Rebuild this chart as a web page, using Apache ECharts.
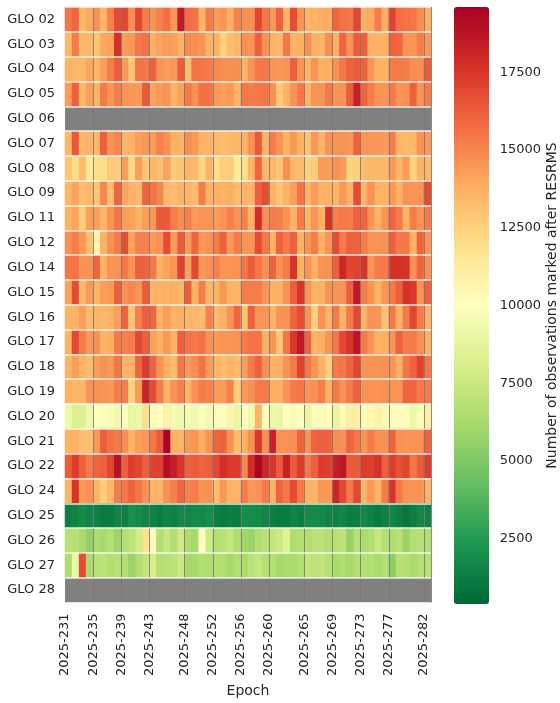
<!DOCTYPE html>
<html>
<head>
<meta charset="utf-8">
<script src="https://cdn.jsdelivr.net/npm/echarts@6.0.0/dist/echarts.min.js"></script>
<style>
  html, body { margin: 0; padding: 0; background: #fff; }
  #chart { width: 560px; height: 703px; }
</style>
</head>
<body>
<div id="chart"></div>
<script>
// epochs: one column per day of year, 2025-231 .. 2025-282
const firstDay = 231;
const lastDay = 282;
const epochs = [];
for (let d = firstDay; d <= lastDay; d++) epochs.push("2025-" + d);

// labelled columns (and the grey day lines)
const tickCols = [0, 4, 8, 12, 17, 21, 25, 29, 34, 38, 42, 46, 51];
const tickLabels = ["2025-231", "2025-235", "2025-239", "2025-243", "2025-248", "2025-252",
  "2025-256", "2025-260", "2025-265", "2025-269", "2025-273", "2025-277", "2025-282"];

const satellites = ["GLO 02", "GLO 03", "GLO 04", "GLO 05", "GLO 06", "GLO 07", "GLO 08", "GLO 09",
  "GLO 11", "GLO 12", "GLO 14", "GLO 15", "GLO 16", "GLO 17", "GLO 18", "GLO 19", "GLO 20",
  "GLO 21", "GLO 22", "GLO 24", "GLO 25", "GLO 26", "GLO 27", "GLO 28"];

// number of observations marked after RESRMS, per epoch (empty = no data)
const glo02 = [15500, 16000, 13500, 14000, 14700, 13600, 15200, 16800, 16900, 14800, 17000, 15300, 14600, 15200, 15700, 14500, 18500, 15800, 15600, 13600, 15400, 14300, 14600, 13800, 15100, 14700,
  14700, 17000, 15500, 14500, 16200, 13600, 16800, 14600, 13700, 13700, 13800, 13900, 16000, 15600, 15500, 17000, 13800, 14000, 15300, 13900, 17100, 15700, 15600, 15500, 14800, 13800];
const glo03 = [13400, 15300, 13500, 13500, 13000, 14000, 14200, 17700, 14400, 14500, 15500, 15600, 13800, 14200, 14400, 14300, 13700, 14900, 14800, 14600, 13600, 13700, 12500, 13300, 13500, 14800,
  14600, 16200, 14700, 13700, 13400, 15500, 13700, 13800, 14700, 13800, 13600, 14800, 13800, 16000, 14700, 16300, 16200, 13700, 13600, 13700, 16100, 16000, 14600, 14600, 15300, 14500];
const glo04 = [13600, 13500, 13500, 14100, 13600, 14300, 15300, 16300, 14500, 13000, 15600, 15500, 16200, 14600, 14300, 14500, 16300, 13300, 15600, 15500, 15400, 14900, 14800, 14800, 14800, 13600,
  14600, 15400, 15500, 14600, 14500, 14600, 16200, 14600, 13700, 14600, 13700, 13800, 14700, 15500, 16100, 16300, 16100, 14600, 13600, 13700, 15400, 15400, 15300, 14800, 14700, 16300];
const glo05 = [14400, 16200, 13400, 14300, 13600, 15400, 14600, 15300, 14600, 14500, 14400, 16400, 14200, 14400, 14600, 13600, 14200, 15400, 14700, 15700, 15600, 14500, 14300, 14500, 13600, 15500,
  15300, 15400, 15500, 14700, 12800, 13600, 14600, 15500, 13700, 14600, 14600, 15400, 14600, 14600, 16300, 18400, 16000, 15300, 14600, 14600, 15400, 14600, 14700, 16200, 14600, 15400];
const glo06 = [];
const glo07 = [13500, 16400, 13500, 13600, 13500, 16200, 14700, 15000, 13600, 13700, 14300, 14500, 14400, 15200, 14700, 13700, 13600, 14800, 14500, 13700, 13600, 13400, 13300, 13500, 13500, 13600,
  14600, 16400, 13600, 15300, 14600, 13700, 14500, 13700, 13100, 14500, 13600, 14600, 14600, 14600, 14500, 16100, 14600, 14500, 14500, 14400, 15300, 13600, 13400, 13500, 14600, 14500];
const glo08 = [13000, 12000, 13300, 11500, 12000, 12000, 12800, 12700, 14300, 12200, 14300, 12900, 13500, 13200, 14200, 12800, 13000, 13600, 13400, 12300, 13600, 12000, 12600, 12800, 11300, 12000,
  13500, 16000, 13400, 13500, 12900, 14800, 13400, 13300, 12500, 12600, 14400, 14400, 14700, 14400, 12500, 12600, 13300, 13500, 13400, 13500, 14500, 13600, 14400, 12500, 13600, 13400];
const glo09 = [13500, 14200, 13200, 13500, 12900, 15000, 13200, 16000, 14100, 13600, 13400, 16100, 15600, 15000, 13400, 13200, 13600, 13600, 13300, 15300, 13700, 13800, 13700, 13800, 13300, 13600,
  13600, 16200, 16800, 13700, 13000, 13700, 14300, 15600, 13700, 14400, 13700, 13700, 13600, 14500, 13700, 16800, 13700, 14700, 13700, 13700, 14500, 13700, 14600, 14600, 14600, 16800];
const glo11 = [13600, 14200, 12600, 14300, 14300, 13600, 14600, 15500, 14300, 14200, 13700, 14300, 14500, 16400, 16400, 15300, 14800, 15200, 14500, 14600, 14600, 14400, 14600, 15200, 14600, 15200,
  13600, 17800, 14700, 15300, 15200, 14600, 13700, 15400, 13700, 14600, 13700, 17600, 15300, 15400, 15300, 16100, 16000, 14600, 13700, 14600, 16000, 15400, 13700, 15300, 14600, 15300];
const glo12 = [14700, 15300, 14500, 13200, 10500, 13700, 14700, 15400, 16700, 14200, 15200, 15200, 14500, 14700, 16800, 14400, 16300, 14500, 16000, 14500, 14700, 15300, 16100, 14500, 15300, 14600,
  14600, 16800, 15500, 13700, 16100, 15400, 16200, 13700, 14600, 15300, 13700, 14600, 16800, 15400, 16200, 16100, 15300, 14600, 14600, 14700, 16200, 15400, 15400, 13700, 16100, 14600];
const glo14 = [15500, 15600, 14700, 14600, 16000, 13700, 14600, 14700, 15500, 14600, 16200, 16100, 15500, 13800, 14200, 14600, 17100, 14300, 16900, 14500, 14700, 15200, 14600, 14600, 14700, 15500,
  16300, 15500, 14700, 16100, 14700, 15300, 17600, 13700, 14600, 13800, 14600, 14700, 16200, 18100, 17000, 17100, 17600, 14600, 15300, 15400, 17700, 17700, 17600, 14700, 16100, 14700];
const glo15 = [14200, 16800, 13400, 14500, 13700, 14300, 14400, 16200, 14700, 15000, 14600, 16300, 13600, 13700, 13600, 13800, 13500, 16200, 13700, 15300, 13500, 13600, 14500, 13700, 13600, 15300,
  15300, 15300, 14600, 13700, 13700, 14600, 16200, 17600, 14600, 13700, 13700, 14600, 14600, 14600, 16200, 18600, 15300, 14600, 13700, 14600, 15400, 16200, 17600, 17500, 14600, 16100];
const glo16 = [13600, 13600, 14300, 13300, 13600, 13500, 13700, 14300, 16100, 13000, 15200, 16200, 16000, 13700, 14300, 13600, 13800, 13500, 13400, 13300, 15200, 13300, 13700, 14600, 16000, 13000,
  16200, 14600, 14600, 13700, 14600, 14600, 16000, 16800, 14600, 12500, 14600, 13700, 15400, 13700, 15400, 16900, 13700, 14600, 14600, 13000, 15400, 13700, 15400, 17000, 15400, 13700];
const glo17 = [13700, 16900, 15300, 14500, 14700, 13700, 13800, 15400, 15200, 15300, 16900, 16200, 14200, 13800, 14500, 13700, 16200, 15600, 15400, 15600, 14700, 14500, 14600, 14600, 14700, 15300,
  15600, 15600, 13800, 14600, 13000, 15500, 17500, 18600, 16100, 13700, 13800, 14600, 15500, 16900, 17600, 18700, 15400, 14600, 13700, 13800, 14600, 16100, 15300, 15400, 14700, 13800];
const glo18 = [13600, 14300, 13700, 13300, 14300, 14700, 14500, 15500, 13700, 13600, 16000, 17300, 16100, 14600, 13800, 13300, 15500, 14500, 14800, 15600, 14400, 13600, 13200, 13600, 13300, 14300,
  15400, 16100, 14700, 13700, 13800, 14600, 15400, 17100, 15500, 14600, 13700, 12600, 15400, 15500, 16100, 17000, 14600, 14600, 14600, 14700, 14600, 13800, 15500, 16000, 17100, 15500];
const glo19 = [13700, 13500, 13600, 14600, 14700, 14600, 14500, 15300, 15300, 12500, 14400, 18200, 16800, 15300, 13700, 14600, 15200, 13700, 14700, 15300, 15200, 14400, 14400, 15200, 12700, 14500,
  14700, 15400, 15400, 13800, 13800, 14600, 15400, 15500, 14600, 14700, 15300, 13800, 15400, 14700, 15400, 16100, 14600, 14700, 14600, 14700, 14600, 14600, 16000, 16000, 15400, 15400];
const glo20 = [9200, 8200, 8300, 9200, 10000, 10100, 9700, 9300, 10000, 8900, 9100, 11900, 10200, 10000, 10800, 9500, 9300, 9500, 9400, 9800, 9400, 10200, 10100, 10600, 9000, 10000,
  9400, 13600, 10200, 9200, 9000, 9900, 9600, 10000, 9000, 10100, 10200, 10100, 8900, 10300, 10900, 11000, 9700, 10400, 10800, 9500, 10200, 10200, 10100, 9100, 9800, 11200];
const glo21 = [13700, 13600, 13200, 13200, 14500, 16200, 15600, 15400, 14800, 13700, 14300, 14500, 15500, 16300, 19400, 13700, 13500, 14500, 14600, 13800, 14600, 16000, 16100, 14700, 13300, 13700,
  14700, 17500, 14700, 18300, 14700, 14700, 14800, 16100, 14700, 16100, 16200, 16100, 14800, 14700, 16100, 15500, 14600, 15400, 14700, 14700, 16100, 14700, 14600, 14700, 14600, 16100];
const glo22 = [16300, 17300, 16200, 15400, 16000, 16200, 17000, 18900, 16200, 17300, 17000, 16200, 17100, 17200, 19000, 18400, 17500, 16200, 16300, 16100, 16200, 16900, 17800, 17400, 17400, 15000,
  17800, 19400, 18100, 17600, 16300, 18300, 16300, 17300, 15500, 16200, 17300, 17200, 18400, 18700, 16300, 16300, 17300, 17200, 17600, 16200, 17300, 16600, 17000, 15500, 16300, 17300];
const glo24 = [13600, 17600, 14500, 14700, 13600, 12700, 13500, 15300, 15500, 16100, 15500, 14700, 13700, 13600, 14700, 15200, 16000, 15200, 15300, 14600, 14700, 13200, 14500, 13600, 13600, 15300,
  14500, 14600, 15400, 13600, 16000, 15500, 16800, 15400, 13700, 13600, 14500, 14500, 18100, 16900, 15500, 16900, 13700, 14400, 13700, 15300, 17600, 15400, 14700, 14600, 14700, 13700];
const glo25 = [1300, 1500, 1800, 1600, 1400, 1100, 1200, 1500, 1300, 2000, 1800, 1600, 1400, 1200, 1500, 1400, 1700, 1600, 1800, 1700, 2000, 1300, 1200, 1300, 1200, 1900,
  1900, 1800, 1600, 1300, 1100, 1200, 1500, 1300, 1800, 1800, 1700, 1500, 1400, 1600, 1200, 1300, 1700, 1400, 1100, 1400, 1600, 1300, 1000, 1300, 1700, 1400];
const glo26 = [6800, 6800, 6300, 5600, 6500, 6200, 6700, 5900, 6700, 7000, 7800, 11800, 10100, 6700, 7400, 6600, 7700, 6500, 6200, 10000, 7600, 6700, 6900, 7200, 6500, 6000,
  5800, 6600, 6800, 7200, 7600, 8400, 6500, 6700, 6600, 6900, 7000, 6700, 6900, 7100, 5700, 6800, 6400, 6700, 7500, 6700, 6500, 6800, 5800, 6700, 6900, 6600];
const glo27 = [6500, 9200, 16800, 6300, 6800, 7000, 6600, 6800, 6700, 5800, 6600, 7200, 8000, 6700, 6900, 7000, 7600, 6200, 6300, 6600, 6500, 6700, 6600, 6200, 6600, 6300,
  6900, 7300, 6700, 6700, 6200, 6400, 6300, 6600, 7200, 7000, 7200, 6800, 6300, 6600, 6200, 6700, 6800, 6600, 6400, 6700, 5400, 6800, 6700, 6300, 6700, 6800];
const glo28 = [];

const rows = [glo02, glo03, glo04, glo05, glo06, glo07, glo08, glo09, glo11, glo12, glo14, glo15,
  glo16, glo17, glo18, glo19, glo20, glo21, glo22, glo24, glo25, glo26, glo27, glo28];

// colour bar
const cbMin = 400;
const cbMax = 19600;
const cbTicks = [2500, 5000, 7500, 10000, 12500, 15000, 17500];
const rdYlGnR = ["#006837", "#1a9850", "#66bd63", "#a6d96a", "#d9ef8b", "#ffffbf",
  "#fee08b", "#fdae61", "#f46d43", "#d73027", "#a50026"];

const cells = [];
rows.forEach((vals, r) => {
  vals.forEach((v, c) => cells.push([c, r, v]));
});

const font = "DejaVu Sans";
const ink = "#262626";

const chart = echarts.init(document.getElementById("chart"));
chart.setOption({
  animation: false,
  backgroundColor: "#fff",
  textStyle: { fontFamily: font, color: ink },
  grid: [
    { left: 65, top: 7, width: 366, height: 597, show: true, backgroundColor: "#808080", borderWidth: 0 },
    { left: 454, top: 7, width: 35, height: 597 }
  ],
  xAxis: [
    {
      // cell axis: only the grey day lines are shown
      type: "category", gridIndex: 0, data: epochs, position: "top", z: 3,
      axisLine: { show: false }, axisTick: { show: false }, axisLabel: { show: false },
      splitLine: {
        show: true,
        interval: (i) => tickCols.indexOf(i) > 0,
        lineStyle: { color: "rgba(120,120,120,0.85)", width: 1 }
      }
    },
    {
      // label axis on column edges
      type: "value", gridIndex: 0, min: 0, max: epochs.length, position: "bottom",
      axisLine: { show: false }, axisTick: { show: false }, splitLine: { show: false },
      axisLabel: {
        customValues: tickCols, rotate: 90, margin: 11, fontSize: 13, color: ink, fontFamily: font,
        formatter: (v) => tickLabels[tickCols.indexOf(v)]
      },
      name: "Epoch", nameLocation: "middle", nameGap: 71,
      nameTextStyle: { fontSize: 14, color: ink, fontFamily: font }
    },
    { type: "value", gridIndex: 1, show: false, min: 0, max: 1 }
  ],
  yAxis: [
    {
      type: "category", gridIndex: 0, data: satellites, inverse: true, z: 4,
      axisLine: { show: false }, axisTick: { show: false },
      axisLabel: { fontSize: 13, color: ink, margin: 10, fontFamily: font, interval: 0 },
      splitLine: { show: true, interval: 0, lineStyle: { color: "rgba(255,255,255,0.85)", width: 1.5 } }
    },
    {
      type: "value", gridIndex: 1, min: cbMin, max: cbMax, position: "right",
      axisLine: { show: false }, splitLine: { show: false },
      axisTick: { show: true, length: 6, customValues: cbTicks, lineStyle: { color: ink, width: 1 } },
      axisLabel: {
        customValues: cbTicks, fontSize: 13, color: ink, margin: 12, fontFamily: font,
        formatter: (v) => String(v)
      },
      name: "Number of observations marked after RESRMS", nameLocation: "middle", nameRotate: 90, nameGap: 41,
      nameTextStyle: { fontSize: 14, color: ink, fontFamily: font }
    }
  ],
  visualMap: {
    type: "continuous", seriesIndex: 0, min: cbMin, max: cbMax,
    orient: "vertical", left: 454, top: 7, itemWidth: 35, itemHeight: 597, padding: 0,
    calculable: false, hoverLink: false,
    inRange: { color: rdYlGnR }
  },
  series: [
    {
      type: "heatmap", xAxisIndex: 0, yAxisIndex: 0, data: cells,
      itemStyle: { borderWidth: 0 },
      emphasis: { disabled: true }
    }
  ]
});
</script>
</body>
</html>
